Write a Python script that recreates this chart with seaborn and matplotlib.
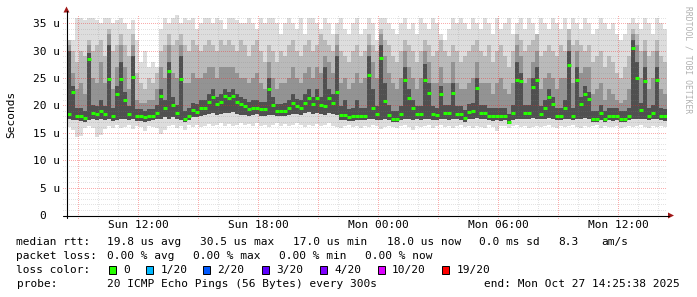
import matplotlib
matplotlib.use("Agg")
import matplotlib.pyplot as plt
from matplotlib.patches import Rectangle, Polygon
from matplotlib.lines import Line2D
import numpy as np
import pandas as pd
import seaborn as sns

# ---------------- data ----------------
t_start = 8.427          # hours since Sun 00:00 (graph start)
t_step = 0.2             # hours per sample (12 min)
span_hours = 30

median_rtt = [
    18.5, 22.4, 18.1, 18.1, 17.7, 28.5, 18.7, 18.5, 19.0, 18.4,
    24.9, 18.0, 22.0, 24.8, 21.0, 18.4, 25.1, 18.0, 18.0, 17.8,
    18.0, 18.0, 18.7, 21.8, 19.5, 26.3, 20.1, 18.7, 24.8, 17.6,
    18.1, 19.2, 18.8, 19.5, 19.6, 20.7, 21.5, 20.2, 20.6, 21.7,
    21.3, 21.8, 20.6, 20.2, 19.9, 19.3, 19.6, 19.6, 19.3, 19.3,
    23.0, 20.1, 19.0, 19.0, 19.0, 19.6, 20.5, 19.8, 19.6, 20.5,
    21.4, 20.2, 21.4, 20.0, 19.8, 21.3, 20.5, 22.4, 18.3, 18.3,
    17.9, 18.0, 18.1, 18.1, 18.1, 25.5, 19.6, 18.4, 28.7, 20.8,
    18.3, 17.6, 17.6, 18.4, 24.6, 21.3, 19.5, 18.4, 18.4, 24.6,
    22.3, 18.4, 18.2, 22.0, 18.6, 18.6, 22.3, 18.4, 18.4, 17.7,
    18.8, 19.0, 23.2, 18.7, 18.7, 18.1, 18.1, 18.1, 18.1, 18.1,
    17.0, 18.7, 24.7, 24.4, 18.7, 18.7, 23.4, 24.6, 18.5, 19.6,
    21.5, 20.3, 18.1, 18.1, 19.6, 27.4, 18.1, 24.7, 20.3, 22.0,
    21.2, 17.6, 17.6, 18.7, 17.6, 18.1, 18.1, 18.1, 17.6, 17.6,
    18.1, 30.5, 25.0, 19.2, 24.4, 18.1, 18.7, 24.6, 18.1, 18.0,
]

smoke_min = [
    16.0, 15.5, 14.3, 14.5, 15.8, 16.2, 15.9, 14.2, 14.6, 15.7,
    16.3, 15.9, 16.4, 15.8, 16.1, 16.5, 15.7, 16.2, 16.0, 15.4,
    16.3, 16.0, 15.8, 14.8, 15.5, 16.2, 16.4, 15.9, 16.3, 15.6,
    16.4, 16.1, 16.5, 16.0, 16.3, 16.6, 16.2, 16.5, 16.7, 16.3,
    16.6, 16.2, 16.5, 16.8, 16.4, 16.6, 16.2, 16.7, 16.3, 16.5,
    16.1, 16.5, 16.8, 16.3, 16.6, 16.2, 16.5, 16.7, 16.4, 16.0,
    16.5, 16.3, 16.6, 16.2, 16.5, 16.8, 16.3, 16.1, 15.9, 16.2,
    16.4, 16.1, 16.3, 15.8, 16.2, 16.0, 16.4, 16.3, 15.7, 16.1,
    16.3, 16.0, 15.8, 16.2, 16.4, 16.1, 15.6, 16.3, 16.0, 16.2,
    16.4, 15.9, 16.2, 16.5, 16.1, 16.3, 15.8, 16.2, 16.4, 16.0,
    16.2, 15.9, 16.3, 16.1, 15.8, 16.4, 16.0, 15.3, 16.2, 16.3,
    15.9, 16.2, 16.4, 16.0, 16.3, 15.8, 16.1, 16.3, 16.0, 16.2,
    16.4, 16.1, 15.9, 16.3, 16.0, 16.2, 16.4, 16.1, 15.8, 16.3,
    16.0, 16.2, 16.4, 15.9, 16.3, 16.1, 16.0, 16.2, 15.9, 16.1,
    16.3, 16.0, 16.2, 16.4, 16.1, 15.8, 16.2, 16.0, 16.3, 16.1,
]

smoke_low = [
    17.5, 17.4, 17.3, 17.2, 17.0, 17.4, 17.6, 17.3, 17.5, 17.4,
    17.5, 17.2, 17.4, 17.6, 17.5, 17.3, 17.5, 17.2, 17.1, 17.0,
    17.2, 17.3, 17.5, 17.6, 17.8, 17.6, 17.8, 17.5, 17.4, 16.9,
    17.3, 17.8, 17.9, 18.1, 18.2, 18.4, 18.6, 18.3, 18.5, 18.7,
    18.6, 18.8, 18.4, 18.3, 18.2, 18.0, 18.2, 18.4, 18.1, 18.0,
    18.2, 18.3, 18.0, 18.1, 18.0, 18.3, 18.5, 18.4, 18.2, 18.6,
    18.8, 18.5, 18.7, 18.4, 18.3, 18.6, 18.4, 18.2, 17.4, 17.3,
    17.1, 17.2, 17.3, 17.4, 17.3, 17.5, 17.6, 17.4, 17.3, 17.5,
    17.4, 17.0, 16.9, 17.3, 17.5, 17.6, 17.4, 17.5, 17.3, 17.6,
    17.5, 17.4, 17.3, 17.6, 17.5, 17.4, 17.6, 17.5, 17.4, 17.0,
    17.5, 17.6, 17.7, 17.6, 17.5, 17.3, 17.2, 17.3, 17.2, 17.3,
    16.6, 17.4, 17.5, 17.6, 17.5, 17.6, 17.7, 17.6, 17.5, 17.6,
    17.7, 17.6, 17.3, 17.4, 17.5, 17.6, 17.3, 17.5, 17.6, 17.7,
    17.6, 17.0, 16.9, 17.4, 17.0, 17.3, 17.2, 17.3, 17.0, 16.9,
    17.3, 17.5, 17.6, 17.5, 17.6, 17.3, 17.5, 17.6, 17.3, 17.2,
]

smoke_q60 = [
    30, 23.5, 19.5, 19.5, 19, 29.5, 20, 19.8, 21, 19.8,
    31, 19.5, 23.5, 28, 22.5, 19.8, 29, 19.3, 19.3, 19,
    19.3, 19.3, 20, 23, 21, 28, 21.5, 20, 29, 19,
    19.5, 20.5, 20.2, 21, 21, 22, 23, 21.5, 22, 23,
    22.5, 23, 22, 21.5, 21.2, 20.6, 21, 21, 20.6, 20.6,
    25, 21.5, 20.3, 20.3, 20.5, 21, 22, 21.2, 21, 22,
    23, 21.5, 23, 21.5, 27, 23, 22, 29, 19.8, 21,
    19.3, 19.5, 21, 19.5, 19.6, 29, 23, 19.8, 31, 24,
    20, 19, 19, 19.8, 27, 23, 21, 19.8, 19.8, 27.5,
    24, 19.8, 19.6, 23.5, 20, 20, 24, 19.8, 19.8, 19.2,
    20.2, 20.5, 25, 20, 20, 19.5, 19.5, 19.5, 19.5, 19.5,
    18.5, 20, 28, 26, 20, 20, 25, 27, 19.8, 21,
    23, 21.5, 19.5, 19.5, 21, 30, 19.5, 27, 21.5, 23.5,
    22.5, 19, 19, 20, 19, 19.5, 19.5, 19.5, 19, 19,
    19.5, 32, 28, 20.5, 27, 19.5, 20, 27, 19.5, 19.3,
]

smoke_q70 = [
    31, 26, 23, 24, 22, 31, 25, 24, 28, 24,
    33, 23, 27, 31, 27, 23, 31, 21, 20.5, 20.5,
    21, 21, 23, 27, 25, 31, 26, 25, 31, 24,
    24, 26, 25, 25, 26, 27, 27, 25, 27, 27,
    27, 27, 26, 25, 25, 24, 25, 26, 24, 23,
    28, 25, 23, 24, 24, 25, 27, 25, 24, 26,
    27, 25, 27, 26, 29, 28, 26, 31, 24, 25,
    23, 24, 26, 24, 25, 31, 28, 25, 33, 29,
    26, 24, 23, 25, 30, 27, 25, 23, 25, 30,
    28, 24, 24, 27, 24, 24, 28, 24, 23, 23,
    24, 25, 28, 24, 24, 24, 22, 24, 25, 23,
    22, 24, 31, 29, 24, 25, 28, 30, 23, 25,
    26, 25, 23, 25, 25, 32, 24, 30, 26, 27,
    27, 22, 23, 24, 21, 23, 22, 21, 20.5, 21,
    23, 33, 31, 25, 30, 23, 25, 30, 23, 22,
]

smoke_q80 = [
    32, 30, 28, 30, 29, 32, 30, 31, 32, 29,
    34, 30, 31, 33, 31, 29, 33, 26, 24, 23,
    25, 24, 26, 30, 31, 33, 31, 32, 33, 31,
    30, 32, 31, 30, 31, 32, 31, 30, 32, 31,
    32, 31, 30, 32, 31, 29, 31, 32, 30, 28,
    31, 30, 28, 30, 29, 31, 32, 30, 29, 31,
    32, 30, 31, 33, 32, 31, 30, 33, 30, 29,
    28, 30, 31, 29, 30, 33, 31, 30, 34, 32,
    31, 29, 28, 30, 32, 31, 30, 28, 30, 32,
    31, 29, 30, 32, 30, 29, 31, 30, 28, 29,
    30, 31, 32, 30, 29, 31, 28, 30, 31, 29,
    27, 30, 33, 32, 30, 31, 32, 33, 29, 30,
    31, 30, 29, 31, 30, 34, 31, 32, 31, 30,
    31, 28, 29, 30, 27, 29, 28, 26, 25, 27,
    29, 34, 33, 30, 32, 29, 30, 32, 29, 28,
]

smoke_max = [
    32, 32, 36, 36, 35.5, 36, 36, 35.5, 35, 36,
    36, 35, 35.5, 36, 35, 34, 35.5, 32, 28, 30,
    27, 28, 27, 34, 36, 35, 36, 36.5, 35, 36,
    35.5, 36, 34, 35, 36, 36, 35, 36, 35.5, 34,
    36, 36, 35.5, 35, 35, 36, 35, 34, 36, 35,
    36, 36, 35, 33, 35, 36, 35, 34, 36, 33,
    36, 36, 35, 34, 36, 35, 33, 35, 36, 34,
    33, 35, 36, 33, 34, 36, 35, 32, 36, 36,
    35, 34, 33, 35, 36, 34, 35, 33, 36, 35,
    34, 36, 35, 33, 32, 34, 36, 35, 36, 35,
    34, 36, 35, 34, 36, 35, 33, 36, 34, 35,
    36, 33, 35, 36, 34, 36, 35, 33, 36, 35,
    34, 36, 35, 34, 36, 33, 36, 35, 34, 36,
    35, 33, 34, 36, 35, 34, 35, 33, 32, 33,
    35, 36, 35, 34, 36, 35, 33, 36, 35, 34,
]

y_ticks = [0, 5, 10, 15, 20, 25, 30, 35]
y_tick_labels = ["0  ", "5 u", "10 u", "15 u", "20 u", "25 u", "30 u", "35 u"]
x_ticks = [12, 18, 24, 30, 36]
x_tick_labels = ["Sun 12:00", "Sun 18:00", "Mon 00:00", "Mon 06:00", "Mon 12:00"]

loss_labels = ["0", "1/20", "2/20", "3/20", "4/20", "10/20", "19/20"]
loss_colors = ["#26ff00", "#00b8ff", "#0059ff", "#5e00ff", "#7e00ff", "#dd00ff", "#ff0000"]

# ---------------- figure ----------------
sns.set_theme(style="white")
plt.rcParams["font.family"] = ["DejaVu Sans Mono", "DejaVu Sans"]
FS = 8.0

W, H = 697, 297
fig = plt.figure(figsize=(W / 100, H / 100), dpi=100, facecolor="white")
PX0, PX1, PY0, PY1 = 67, 667, 215, 15
ax = fig.add_axes([PX0 / W, 1 - PY0 / H, (PX1 - PX0) / W, (PY0 - PY1) / H])
ax.set_facecolor("white")
ymax = (PY0 - PY1) / 5.48
for s in ax.spines.values():
    s.set_visible(False)

n = len(median_rtt)
t_left = t_start + t_step * np.arange(n)
t_edges = np.append(t_left, t_left[-1] + t_step)


def ext(a):
    a = np.asarray(a, dtype=float)
    return np.append(a, a[-1])


def band(lo, hi, color, z):
    ax.fill_between(t_edges, ext(lo), ext(hi), step="post", color=color,
                    linewidth=0, antialiased=False, zorder=z)


band(smoke_min, smoke_max, "#dddddd", 1)
band(smoke_low, smoke_q80, "#bababa", 1.1)
band(smoke_low, smoke_q70, "#939393", 1.2)
band(smoke_low, smoke_q60, "#505050", 1.3)

# grid (drawn over the smoke like rrdtool), faint 1px dotted
minor_c = (0.5, 0.5, 0.5, 0.22)
major_c = (0.95, 0.15, 0.15, 0.38)
for v in range(1, 37):
    c = major_c if v % 5 == 0 else minor_c
    ax.axhline(v, xmin=-4 / 600, xmax=1, color=c, lw=0.72, ls=(0, (1, 1.5)),
               zorder=4, clip_on=False, antialiased=False)
for h in range(9, 39):
    c = major_c if h % 3 == 0 else minor_c
    ax.axvline(h, ymin=-3 / 200, ymax=1, color=c, lw=0.72, ls=(0, (1, 1.5)),
               zorder=4, clip_on=False, antialiased=False)

# median line as short horizontal segments (seaborn)
seg = pd.DataFrame({
    "t": np.ravel(np.column_stack([t_left, t_left + t_step])),
    "rtt": np.repeat(np.asarray(median_rtt, float), 2),
    "seg": np.repeat(np.arange(n), 2),
})
sns.lineplot(data=seg, x="t", y="rtt", units="seg", estimator=None, sort=False,
             color="#26ff00", linewidth=2.2, solid_capstyle="butt",
             legend=False, ax=ax, zorder=5)
ax.set_xlabel("")
ax.set_ylabel("")
ax.set_xlim(t_start, t_start + span_hours)
ax.set_ylim(0, ymax)

# ticks
ax.set_yticks(y_ticks)
ax.set_yticklabels(y_tick_labels)
ax.set_xticks(x_ticks)
ax.set_xticklabels(x_tick_labels)
ax.tick_params(axis="both", length=0, labelsize=FS, colors="black")
ax.tick_params(axis="y", pad=5.0)
ax.tick_params(axis="x", pad=3.6)
for lab in ax.get_yticklabels() + ax.get_xticklabels():
    lab.set_fontfamily(["DejaVu Sans Mono"])


def fx(x):
    return x / W


def fy(y):
    return 1 - y / H


# axis lines + arrows
fig.add_artist(Line2D([fx(66.5), fx(66.5)], [fy(218), fy(11)], color="black", lw=0.8))
fig.add_artist(Line2D([fx(63), fx(669)], [fy(215.5), fy(215.5)], color="black", lw=0.8))
fig.add_artist(Polygon([[fx(63.5), fy(12.5)], [fx(69.5), fy(12.5)], [fx(66.5), fy(6.5)]],
                       closed=True, color="#a01818", lw=0))
fig.add_artist(Polygon([[fx(668), fy(212.5)], [fx(668), fy(218.5)], [fx(674), fy(215.5)]],
                       closed=True, color="#a01818", lw=0))

# y label and watermark
fig.text(fx(11), fy(114), "Seconds", rotation=90, ha="center", va="center",
         fontsize=FS, color="black")
fig.text(fx(688), fy(60), "RRDTOOL / TOBI OETIKER", rotation=270, ha="center",
         va="center", fontsize=5.8, color="#b0b0b0")

# legend text
rows = [
    (245, [("median rtt:", 16.5), ("19.8 us avg", 107), ("30.5 us max", 200),
           ("17.0 us min", 293.3), ("18.0 us now", 386.7), ("0.0 ms sd", 479),
           ("8.3", 558), ("am/s", 601.7)]),
    (259, [("packet loss:", 16.5), ("0.00 % avg", 107), ("0.00 % max", 193.3),
           ("0.00 % min", 279.3), ("0.00 % now", 365)]),
    (273, [("loss color:", 16.5)]),
    (287, [("probe:", 16.5), ("20 ICMP Echo Pings (56 Bytes) every 300s", 107)]),
]
for yb, segs in rows:
    for txt, xp in segs:
        fig.text(fx(xp), fy(yb), txt, ha="left", va="baseline", fontsize=FS, color="black")
fig.text(fx(680), fy(287), "end: Mon Oct 27 14:25:38 2025", ha="right", va="baseline",
         fontsize=FS, color="black")

box_x = [109, 146, 203.3, 261.7, 320, 377.7, 442.3]
for lab, col, bx in zip(loss_labels, loss_colors, box_x):
    fig.add_artist(Rectangle((fx(bx), fy(273.5)), 7 / W, 8 / H, facecolor=col,
                             edgecolor="black", lw=0.7))
    fig.text(fx(bx + 14.3), fy(273), lab, ha="left", va="baseline", fontsize=FS,
             color="black")

fig.savefig("out.png", dpi=100, facecolor="white")
